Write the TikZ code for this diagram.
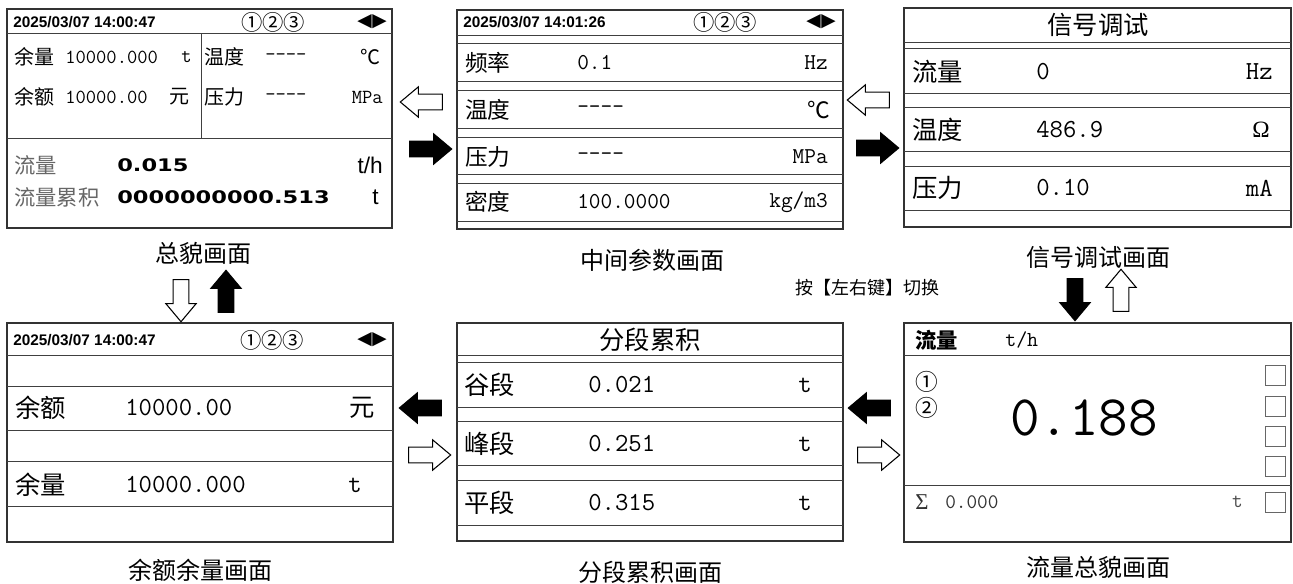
\documentclass[tikz,border=0pt]{standalone}
\usepackage{fontspec}
\usepackage{tikz}
\usetikzlibrary{shapes.arrows}

\newfontfamily\cjk{Noto Sans CJK SC}
\newfontfamily\lsans{Liberation Sans}
\newfontfamily\lserif{Liberation Serif}
\newfontfamily\dsans{DejaVu Sans}
\newfontfamily\segfont[FakeStretch=1.3]{DejaVu Sans}

\tikzset{
  frame/.style={draw=black!80, line width=1.1pt},
  sep/.style={draw=black!75, line width=0.75pt},
  cn/.style={font=\cjk\fontsize{#1}{#1}\selectfont, anchor=west, inner sep=0pt},
  num/.style={font=\ttfamily\fontsize{#1}{#1}\selectfont, anchor=west, inner sep=0pt},
  unit/.style={font=\ttfamily\fontsize{#1}{#1}\selectfont, anchor=east, inner sep=0pt},
  hdr/.style={font=\lsans\bfseries\fontsize{11.5}{11.5}\selectfont, anchor=west, inner sep=0pt},
  circno/.style={font=\cjk\fontsize{16}{16}\selectfont, inner sep=0pt},
  lrkey/.style={font=\dsans\fontsize{14}{14}\selectfont, inner sep=0pt},
  title/.style={font=\cjk\fontsize{18}{18}\selectfont, inner sep=0pt},
  blockarrow/.style={single arrow, draw=black, line width=0.8pt, minimum height=31.5pt,
    inner xsep=1pt, inner ysep=5.5pt, single arrow head extend=5.5pt, single arrow tip angle=80},
  hollowarrow/.style={blockarrow, fill=white},
  solidarrow/.style={blockarrow, fill=black}
}

\begin{document}
\begin{tikzpicture}[x=0.75pt, y=-0.75pt]
\useasboundingbox (0,0) rectangle (1293,583);

% 总貌画面
\draw[frame] (7,9) rectangle (392,228);
\draw[sep] (7,33) -- (392,33) (201,33) -- (201,138) (7,138) -- (392,138);
\node[hdr] (zmdate) at (13,22) {2025/03/07 14:00:47};
\node[circno] (zmno) at (273,22) {①②③};
\node[lrkey] (zmlr) at (372,22) {◀\kern0.4pt▶};
\node[cn=15] (zmyl) at (14,57) {余量};
\node[num=15] (zmylv) at (65,57) {10000.000};
\node[unit=15] (zmylu) at (192,57) {t};
\node[cn=15] (zmwd) at (204,57) {温度};
\node[num=15] (zmwdv) at (265,57) {----};
\node[cn=15, anchor=east] (zmwdu) at (381,57) {℃};
\node[cn=15] (zmye) at (14,97) {余额};
\node[num=15] (zmyev) at (65,97) {10000.00};
\node[cn=15, anchor=east] (zmyeu) at (190,97) {元};
\node[cn=15] (zmyk) at (204,97) {压力};
\node[num=15] (zmykv) at (265,97) {----};
\node[unit=15] (zmyku) at (383,97) {MPa};
\node[cn=16, text=black!60] (zmll) at (14,165) {流量};
\node[font=\segfont\bfseries\fontsize{13}{13}\selectfont, anchor=west, inner sep=0pt] (zmllv) at (117,165) {0.015};
\node[font=\lsans\fontsize{17}{17}\selectfont, anchor=east, inner sep=0pt] (zmllu) at (383,165) {t/h};
\node[cn=16, text=black!60] (zmlj) at (14,197) {流量累积};
\node[font=\segfont\bfseries\fontsize{13}{13}\selectfont, anchor=west, inner sep=0pt] (zmljv) at (117,197) {0000000000.513};
\node[font=\lsans\fontsize{17}{17}\selectfont, anchor=east, inner sep=0pt] (zmlju) at (379,197) {t};
\node[title] (zmname) at (203,253) {总貌画面};

% 中间参数画面
\draw[frame] (457,10) rectangle (843,229);
\draw[sep] (457,35) -- (843,35) (457,43) -- (843,43) (457,81) -- (843,81) (457,90) -- (843,90)
  (457,128) -- (843,128) (457,137) -- (843,137) (457,174) -- (843,174) (457,183) -- (843,183)
  (457,221) -- (843,221);
\node[hdr] (zjdate) at (463,22) {2025/03/07 14:01:26};
\node[circno] (zjno) at (725,22) {①②③};
\node[lrkey] (zjlr) at (821,22) {◀\kern0.4pt▶};
\node[cn=17] (zjpl) at (465,63) {频率};
\node[num=17] (zjplv) at (577,63) {0.1};
\node[unit=17] (zjplu) at (828,63) {Hz};
\node[cn=17] (zjwd) at (465,110) {温度};
\node[num=17] (zjwdv) at (577,110) {----};
\node[cn=17, anchor=east] (zjwdu) at (830,110) {℃};
\node[cn=17] (zjyl) at (465,157) {压力};
\node[num=17] (zjylv) at (577,157) {----};
\node[unit=17] (zjylu) at (828,157) {MPa};
\node[cn=17] (zjmd) at (465,202) {密度};
\node[num=17] (zjmdv) at (577,202) {100.0000};
\node[unit=17] (zjmdu) at (828,202) {kg/m3};
\node[title] (zjname) at (652,260) {中间参数画面};

% 信号调试画面
\draw[frame] (904,8) rectangle (1291,227);
\draw[sep] (904,42) -- (1291,42) (904,48) -- (1291,48) (904,93) -- (1291,93) (904,107) -- (1291,107)
  (904,151) -- (1291,151) (904,166) -- (1291,166) (904,210) -- (1291,210);
\node[cn=19, anchor=center] (xhtitle) at (1098,25) {信号调试};
\node[cn=19] (xhll) at (912,72) {流量};
\node[num=19.5] (xhllv) at (1036,72) {0};
\node[unit=19.5] (xhllu) at (1273,72) {Hz};
\node[cn=19] (xhwd) at (912,130) {温度};
\node[num=19.5] (xhwdv) at (1036,130) {486.9};
\node[font=\lserif\fontsize{17.5}{17.5}\selectfont, anchor=east, inner sep=0pt] (xhwdu) at (1270,130) {Ω};
\node[cn=19] (xhyl) at (912,188) {压力};
\node[num=19.5] (xhylv) at (1036,188) {0.10};
\node[unit=19.5] (xhylu) at (1273,188) {mA};
\node[title] (xhname) at (1098,257) {信号调试画面};

\node[font=\cjk\fontsize{13.5}{13.5}\selectfont, inner sep=0pt] (hint) at (867,288) {按【左右键】切换};

% 余额余量画面
\draw[frame] (7,323) rectangle (393,542);
\draw[sep] (7,355) -- (393,355) (7,386) -- (393,386) (7,430) -- (393,430) (7,461) -- (393,461)
  (7,506) -- (393,506);
\node[hdr] (yedate) at (13,340) {2025/03/07 14:00:47};
\node[circno] (yeno) at (272,340) {①②③};
\node[lrkey] (yelr) at (372,340) {◀\kern0.4pt▶};
\node[cn=19] (yeye) at (15,408) {余额};
\node[num=19.5] (yeyev) at (125,408) {10000.00};
\node[cn=19, anchor=east] (yeyeu) at (375,408) {元};
\node[cn=19] (yeyl) at (15,485) {余量};
\node[num=19.5] (yeylv) at (125,485) {10000.000};
\node[unit=19.5] (yeylu) at (362,485) {t};
\node[title] (yename) at (200,570) {余额余量画面};

% 分段累积画面
\draw[frame] (457,323) rectangle (843,541);
\draw[sep] (457,355) -- (843,355) (457,362) -- (843,362) (457,407) -- (843,407) (457,421) -- (843,421)
  (457,465) -- (843,465) (457,480) -- (843,480) (457,525) -- (843,525);
\node[cn=19, anchor=center] (fdtitle) at (650,340) {分段累积};
\node[cn=19] (fdgd) at (464,385) {谷段};
\node[num=19.5] (fdgdv) at (588,385) {0.021};
\node[unit=19.5] (fdgdu) at (812,385) {t};
\node[cn=19] (fdfd) at (464,444) {峰段};
\node[num=19.5] (fdfdv) at (588,444) {0.251};
\node[unit=19.5] (fdfdu) at (812,444) {t};
\node[cn=19] (fdpd) at (464,503) {平段};
\node[num=19.5] (fdpdv) at (588,503) {0.315};
\node[unit=19.5] (fdpdu) at (812,503) {t};
\node[title] (fdname) at (650,572) {分段累积画面};

% 流量总貌画面
\draw[frame] (904,323) rectangle (1291,542);
\draw[sep] (904,355) -- (1291,355) (904,485) -- (1291,485);
\node[cn=16, font=\cjk\bfseries\fontsize{16}{16}\selectfont] (lltitle) at (915,340) {流量};
\node[num=16] (lltitleu) at (1005,340) {t/h};
\node[circno, font=\cjk\fontsize{17}{17}\selectfont] (llno1) at (927,382) {①};
\node[circno, font=\cjk\fontsize{17}{17}\selectfont] (llno2) at (927,408) {②};
\node[num=43] (llv) at (1010,418) {0.188};
\draw[sep, draw=black!60] (1265,365) rectangle (1285,385) (1265,396) rectangle (1285,416)
  (1265,426) rectangle (1285,446) (1265,456) rectangle (1285,476) (1265,492) rectangle (1285,512);
\node[font=\lserif\fontsize{17}{17}\selectfont, anchor=west, inner sep=0pt, text=black!80] (llsum) at (915,502) {Σ};
\node[num=15.5, text=black!80] (llsumv) at (945,502) {0.000};
\node[unit=15.5, text=black!70] (llsumu) at (1243,502) {t};
\node[title] (llname) at (1098,567) {流量总貌画面};

% 切换箭头
\node[hollowarrow, rotate=180] (zm2zj) at (426,102) {};
\node[solidarrow] (zj2zm) at (426,149) {};
\node[hollowarrow, rotate=180] (zj2xh) at (873,100) {};
\node[solidarrow] (xh2zj) at (873,148) {};
\node[hollowarrow, rotate=-90] (zm2ye) at (181,296) {};
\node[solidarrow, rotate=90] (ye2zm) at (226,296) {};
\node[solidarrow, rotate=-90] (xh2ll) at (1075,295) {};
\node[hollowarrow, rotate=90] (ll2xh) at (1121,295) {};
\node[solidarrow, rotate=180] (fd2ye) at (425,408) {};
\node[hollowarrow] (ye2fd) at (425,455) {};
\node[solidarrow, rotate=180] (ll2fd) at (874,408) {};
\node[hollowarrow] (fd2ll) at (874,455) {};

\end{tikzpicture}
\end{document}
